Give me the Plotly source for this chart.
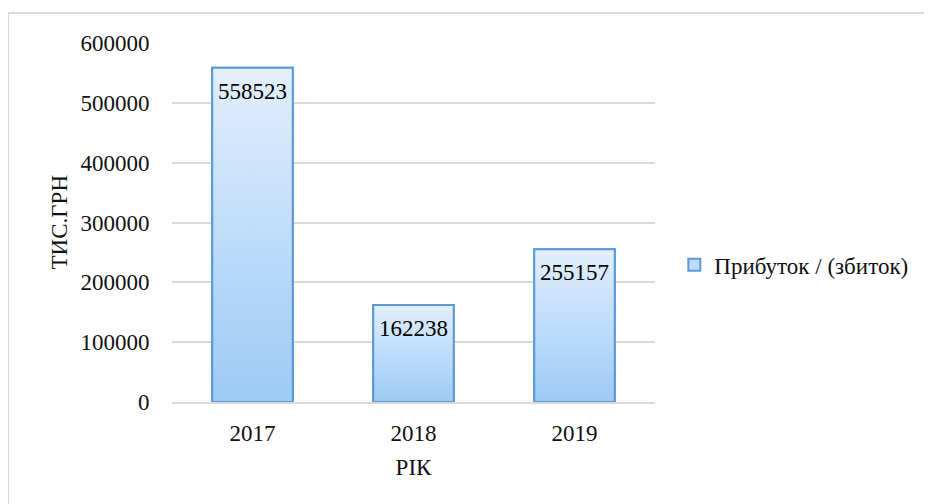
import plotly.graph_objects as go

years = ["2017", "2018", "2019"]
profit = [558523, 162238, 255157]
series_name = "Прибуток / (збиток)"
y_ticks = [0, 100000, 200000, 300000, 400000, 500000, 600000]

FONT = "Times New Roman, Liberation Serif, serif"
BORDER = "#5b9bd5"
half = 0.25  # half bar width in category units
fsize = 23

fig = go.Figure()

# legend entry (hidden under the gradient shapes)
fig.add_trace(go.Bar(
    x=list(range(len(years))), y=profit, width=2 * half, name=series_name,
    marker=dict(color="#bcdcfa", line=dict(color=BORDER, width=2)),
    showlegend=True,
))

# gradient bars drawn as filled polygons
for i, v in enumerate(profit):
    fig.add_trace(go.Scatter(
        x=[i - half, i - half, i + half, i + half, i - half],
        y=[0, v, v, 0, 0],
        mode="lines", fill="toself",
        line=dict(color=BORDER, width=2),
        fillgradient=dict(type="vertical", start=0, stop=v,
                          colorscale=[[0, "#9ccaf6"], [1, "#e2effd"]]),
        showlegend=False, hoverinfo="skip",
    ))

for i, v in enumerate(profit):
    fig.add_annotation(x=i, y=v, text=str(v), showarrow=False,
                       yanchor="top", yshift=-9,
                       font=dict(family=FONT, size=fsize, color="black"))

# y axis title
fig.add_annotation(x=-0.232, y=0.5, xref="paper", yref="paper", text="ТИС.ГРН",
                   textangle=-90, showarrow=False, xanchor="center", yanchor="middle",
                   font=dict(family=FONT, size=fsize, color="#111"))

fig.add_shape(type="rect", xref="paper", yref="paper",
              x0=-0.3395, x1=1.6, y0=-0.5, y1=1.0836,
              line=dict(color="#d9d9d9", width=2), layer="below")

fig.update_layout(
    width=932, height=504,
    margin=dict(l=164, r=285, t=35, b=110),
    paper_bgcolor="white", plot_bgcolor="white",
    font=dict(family=FONT, size=fsize, color="#111"),
    legend=dict(x=1.04, y=0.382, xanchor="left", yanchor="middle",
                font=dict(family=FONT, size=fsize, color="#111"), itemwidth=30),
)
fig.update_xaxes(
    range=[-0.5, 2.5], tickvals=list(range(len(years))), ticktext=years,
    tickfont=dict(family=FONT, size=fsize),
    showgrid=False, zeroline=False, showline=True, linecolor="#d9d9d9", linewidth=2,
    ticks="outside", ticklen=9, tickcolor="rgba(0,0,0,0)",
    title=dict(text="РІК", standoff=14, font=dict(family=FONT, size=fsize)),
)
fig.update_yaxes(
    range=[0, 600000], tickvals=y_ticks, ticktext=[str(t) for t in y_ticks],
    tickfont=dict(family=FONT, size=fsize),
    showgrid=True, gridcolor="#d9d9d9", gridwidth=2, zeroline=False,
    ticks="outside", ticklen=17, tickcolor="rgba(0,0,0,0)",
)

fig.write_html("out.html")
